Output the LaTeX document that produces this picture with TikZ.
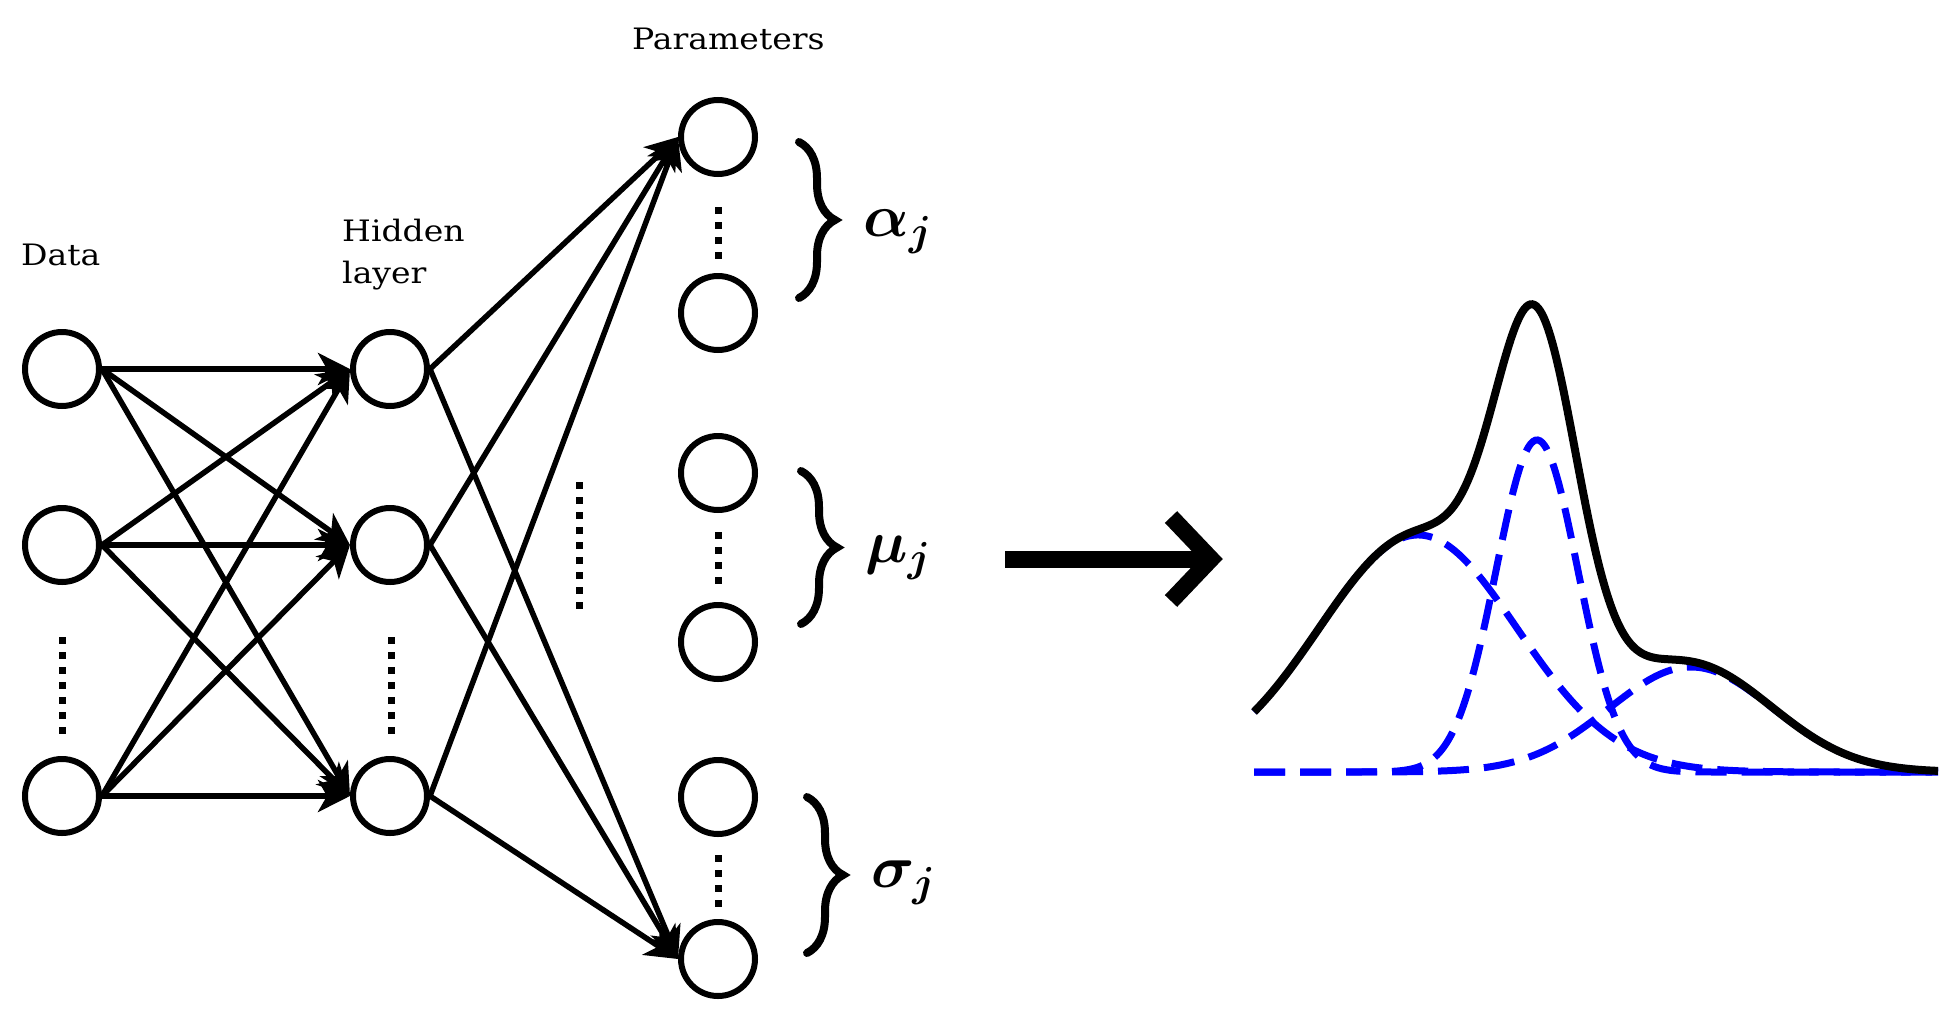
\RequirePackage{fix-cm}
\documentclass[tikz,border=0pt]{standalone}
\usepackage{amsmath}
\usepackage{fontspec}
\setmainfont[FakeStretch=1.12]{DejaVu Serif}
\usetikzlibrary{arrows.meta,decorations.pathreplacing,calc}
\begin{document}
\begin{tikzpicture}[x=1pt,y=-1pt,
  neuron/.style={circle, draw, line width=6pt, minimum size=74pt, inner sep=0pt, fill=white},
  conn/.style={line width=5.5pt, -{Stealth[length=32pt,width=32pt,inset=9pt]}},
  vdots/.style={line width=7pt, dash pattern=on 7pt off 8pt},
  lbl/.style={font=\fontsize{29.5}{42}\selectfont, inner sep=0pt},
  mlbl/.style={font=\fontsize{60}{66}\selectfont\boldmath, inner sep=0pt, anchor=base west},
  bracestyle/.style={line width=8pt, line cap=round, decorate, decoration={brace, amplitude=36pt}},
  comp/.style={blue, line width=7pt, dash pattern=on 31pt off 15pt},
  mix/.style={black, line width=8pt},
  bigarrow/.style={line width=17pt},
  declare function={g(\x,\m,\s,\a)=\a*exp(-0.5*((\x-\m)/\s)*((\x-\m)/\s));}
]
\useasboundingbox (0,0) rectangle (1960,1023);

% neurons
\node[neuron] (d1) at (62,369) {};
\node[neuron] (d2) at (62,545) {};
\node[neuron] (d3) at (62,796) {};
\node[neuron] (h1) at (390,369) {};
\node[neuron] (h2) at (390,545) {};
\node[neuron] (h3) at (390,796) {};
\node[neuron] (p1) at (718,137) {};
\node[neuron] (p2) at (718,313) {};
\node[neuron] (p3) at (718,473) {};
\node[neuron] (p4) at (718,642) {};
\node[neuron] (p5) at (718,797) {};
\node[neuron] (p6) at (718,959) {};

% connections
\foreach \s in {d1,d2,d3}
  \foreach \t in {h1,h2,h3}
    \draw[conn] (\s.east) -- (\t.west);
\foreach \s in {h1,h2,h3}
  \foreach \t in {p1,p6}
    \draw[conn] (\s.east) -- (\t.west);

% vertical dots
\draw[vdots] (62,637) -- (62,734);
\draw[vdots] (391,637) -- (391,734);
\draw[vdots] (579,482) -- (579,609);
\draw[vdots] (718,207) -- (718,259);
\draw[vdots] (718,532) -- (718,584);
\draw[vdots] (718,855) -- (718,907);

% braces
\draw[bracestyle] (799,142) -- (799,298);
\draw[bracestyle] (801,471) -- (801,624);
\draw[bracestyle] (807,797) -- (807,953);

% labels
\node[lbl, anchor=base west] (tdata) at (21,265) {Data};
\node[lbl, anchor=north west, align=left] (thid) at (342,219) {Hidden\\layer};
\node[lbl, anchor=base west] (tpar) at (632,49) {Parameters};
\node[mlbl] (la) at (863,236) {$\alpha_j$};
\node[mlbl] (lm) at (865,562) {$\mu_j$};
\node[mlbl] (ls) at (871,887) {$\sigma_j$};

% big arrow
\coordinate (bs) at (1005,559);
\coordinate (be) at (1211,559);
\draw[bigarrow] (bs) -- (be);
\draw[bigarrow] ($(be)+(-40,-42)$) -- (be) -- ($(be)+(-40,42)$);

% mixture
\draw[comp] plot[domain=1254:1938, samples=300, smooth] (\x, {772-g(\x,1418,99,237)});
\draw[comp] plot[domain=1254:1938, samples=300, smooth] (\x, {772-g(\x,1537,41,332)});
\draw[comp] plot[domain=1254:1938, samples=300, smooth] (\x, {772-g(\x,1691,82,105)});
\draw[mix] plot[domain=1254:1938, samples=350, smooth] (\x, {772-g(\x,1418,99,237)-g(\x,1537,41,332)-g(\x,1691,82,105)});
\end{tikzpicture}
\end{document}
